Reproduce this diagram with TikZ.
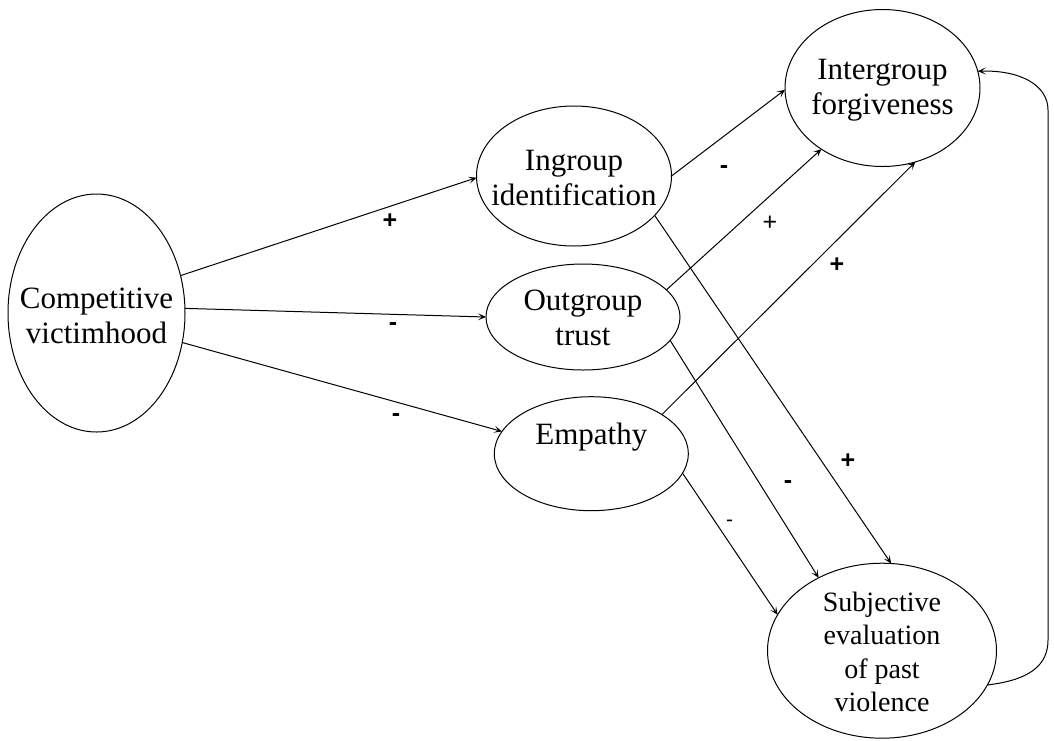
\documentclass[tikz,border=0pt]{standalone}
\usepackage{fontspec}
\setmainfont{Liberation Serif}
\newfontfamily\labfont{Liberation Sans}
\usetikzlibrary{shapes.geometric,arrows.meta}
\tikzset{
  ell/.style={draw, ellipse, inner sep=0pt, outer sep=0pt, line width=1pt},
  txt/.style={align=center, inner sep=0pt, font=\fontsize{31}{35}\selectfont},
  conn/.style={line width=1pt, -{Stealth[length=8pt,width=7pt,inset=4pt]}},
  signb/.style={font=\labfont\bfseries\fontsize{25}{27}\selectfont, inner sep=0pt},
  signr/.style={font=\labfont\fontsize{25}{27}\selectfont, inner sep=0pt},
  signs/.style={font=\labfont\fontsize{21}{23}\selectfont, inner sep=0pt}
}
\begin{document}
\begin{tikzpicture}[x=1pt,y=-1pt]
\useasboundingbox (0,0) rectangle (1054,740);
\node[ell, minimum width=177pt, minimum height=238pt] (cv) at (96.5,313) {};
\node[ell, minimum width=195pt, minimum height=140pt] (ing) at (574,176) {};
\node[ell, minimum width=194pt, minimum height=106pt] (out) at (583,317) {};
\node[ell, minimum width=194pt, minimum height=114pt] (emp) at (591.3,453.7) {};
\node[ell, minimum width=195pt, minimum height=157pt] (int) at (882.5,88) {};
\node[ell, minimum width=229pt, minimum height=175pt] (sub) at (882,650.7) {};

\node[txt] (cvt) at (96.5,316) {Competitive\\victimhood};
\node[txt] (ingt) at (574,178) {Ingroup\\identification};
\node[txt] (outt) at (583,318) {Outgroup\\trust};
\node[txt] (empt) at (591.3,437) {Empathy};
\node[txt] (intt) at (882.5,90) {Intergroup\\forgiveness};
\node[txt, font=\fontsize{28}{33.3}\selectfont] (subt) at (882,652) {Subjective\\evaluation\\of past\\violence};

\draw[conn] (cv.24.3) -- (ing.181);
\draw[conn] (cv.3.2) -- (out.180);
\draw[conn] (cv.-19.3) -- (emp.166);
\draw[conn] (ing.0) -- (int.181);
\draw[conn] (out.18.6) -- (int.225.5);
\draw[conn] (emp.29.3) -- (int.-66.3);
\draw[conn] (ing.-26.4) -- (sub.84.3);
\draw[conn] (out.-15.7) -- (sub.131.6);
\draw[conn] (emp.-12.1) -- (sub.161.9);

\coordinate (fbA) at (1048,640);
\coordinate (fbB) at (1048,110);
\draw[conn] (sub.-18.8) .. controls (1030,680) and (1048,665) .. (fbA) -- (fbB)
  .. controls (1048,85) and (1020,70) .. (int.10);

\node[signb] (l1) at (390,221) {+};
\node[signb] (l2) at (393,327) {-};
\node[signb] (l3) at (396,418) {-};
\node[signb] (l4) at (724,170) {-};
\node[signr] (l5) at (770,223) {+};
\node[signb] (l6) at (837,265) {+};
\node[signb] (l7) at (848,461) {+};
\node[signb] (l8) at (788,485) {-};
\node[signs] (l9) at (729.5,523) {-};
\end{tikzpicture}
\end{document}
